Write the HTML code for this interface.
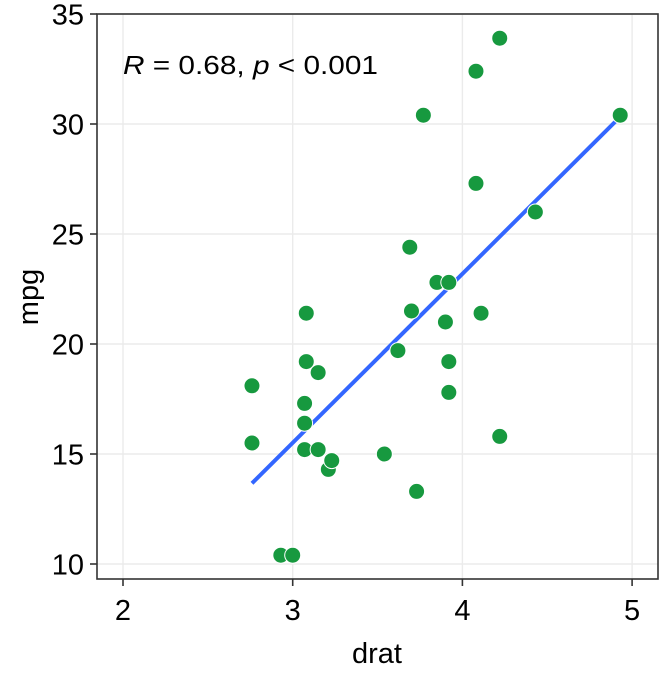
<!DOCTYPE html>
<html><head><meta charset="utf-8"><style>
body{margin:0;background:#fff}
svg text{font-family:"Liberation Sans",Arial,sans-serif;fill:#000}
</style></head><body>
<svg id="chart" width="672" height="672" viewBox="0 0 672 672" xmlns="http://www.w3.org/2000/svg">
<g id="grid"></g>
<g id="line"></g>
<g id="points"></g>
<rect x="97" y="14" width="561" height="565" fill="none" stroke="#333" stroke-width="1.6"/>
<g id="axes"></g>
<text x="123" y="74" font-size="26" textLength="255" lengthAdjust="spacingAndGlyphs"><tspan font-style="italic">R</tspan> = 0.68, <tspan font-style="italic">p</tspan> &lt; 0.001</text>
<text x="377" y="663" font-size="29" text-anchor="middle">drat</text>
<text transform="translate(38,297) rotate(-90)" font-size="29" text-anchor="middle">mpg</text>
</svg>
<script>
const drat=[3.90,3.90,3.85,3.08,3.15,2.76,3.21,3.69,3.92,3.92,3.92,3.07,3.07,3.07,2.93,3.00,3.23,4.08,4.93,4.22,3.70,2.76,3.15,3.73,3.08,4.08,4.43,3.77,4.22,3.62,3.54,4.11];
const mpg=[21.0,21.0,22.8,21.4,18.7,18.1,14.3,24.4,22.8,19.2,17.8,16.4,17.3,15.2,10.4,10.4,14.7,32.4,30.4,33.9,21.5,15.5,15.2,13.3,19.2,27.3,26.0,30.4,15.8,19.7,15.0,21.4];
const xTicks=[2,3,4,5];
const yTicks=[10,15,20,25,30,35];
const X=v=>123+(v-2)*169.7;
const Y=v=>564-(v-10)*22;
const NS="http://www.w3.org/2000/svg";
function mk(parent,tag,attrs){const e=document.createElementNS(NS,tag);for(const k in attrs)e.setAttribute(k,attrs[k]);document.getElementById(parent).appendChild(e);return e;}
xTicks.forEach(t=>{
 const g=mk('grid','line',{x1:X(t),x2:X(t),y1:14,y2:579,stroke:'#ebebeb','stroke-width':1.4});
 
 
 const tk=mk('axes','line',{x1:X(t),x2:X(t),y1:579,y2:586,stroke:'#333','stroke-width':1.6});
 
 
 const l=mk('axes','text',{x:X(t),y:620,'font-size':29,'text-anchor':'middle'});l.textContent=t;
 
 
});
yTicks.forEach(t=>{
 const g=mk('grid','line',{x1:97,x2:658,y1:Y(t),y2:Y(t),stroke:'#ebebeb','stroke-width':1.4});
 
 
 const tk=mk('axes','line',{x1:90,x2:97,y1:Y(t),y2:Y(t),stroke:'#333','stroke-width':1.6});
 
 
 const l=mk('axes','text',{x:84,y:Y(t)+10.5,'font-size':29,'text-anchor':'end'});l.textContent=t;
 
 
});
const n=drat.length;const mx=drat.reduce((a,b)=>a+b)/n,my=mpg.reduce((a,b)=>a+b)/n;
let sxy=0,sxx=0;for(let i=0;i<n;i++){sxy+=(drat[i]-mx)*(mpg[i]-my);sxx+=(drat[i]-mx)**2;}
const b=sxy/sxx,a=my-b*mx;const x0=Math.min(...drat),x1=Math.max(...drat);
const rl=mk('line','line',{x1:X(x0),y1:Y(a+b*x0),x2:X(x1),y2:Y(a+b*x1),stroke:'#3366ff','stroke-width':4});


for(let i=0;i<n;i++){
 const c=mk('points','circle',{cx:X(drat[i]),cy:Y(mpg[i]),r:8,fill:'#17993f',stroke:'#fff','stroke-width':1});
 
 
}
</script>
</body></html>
